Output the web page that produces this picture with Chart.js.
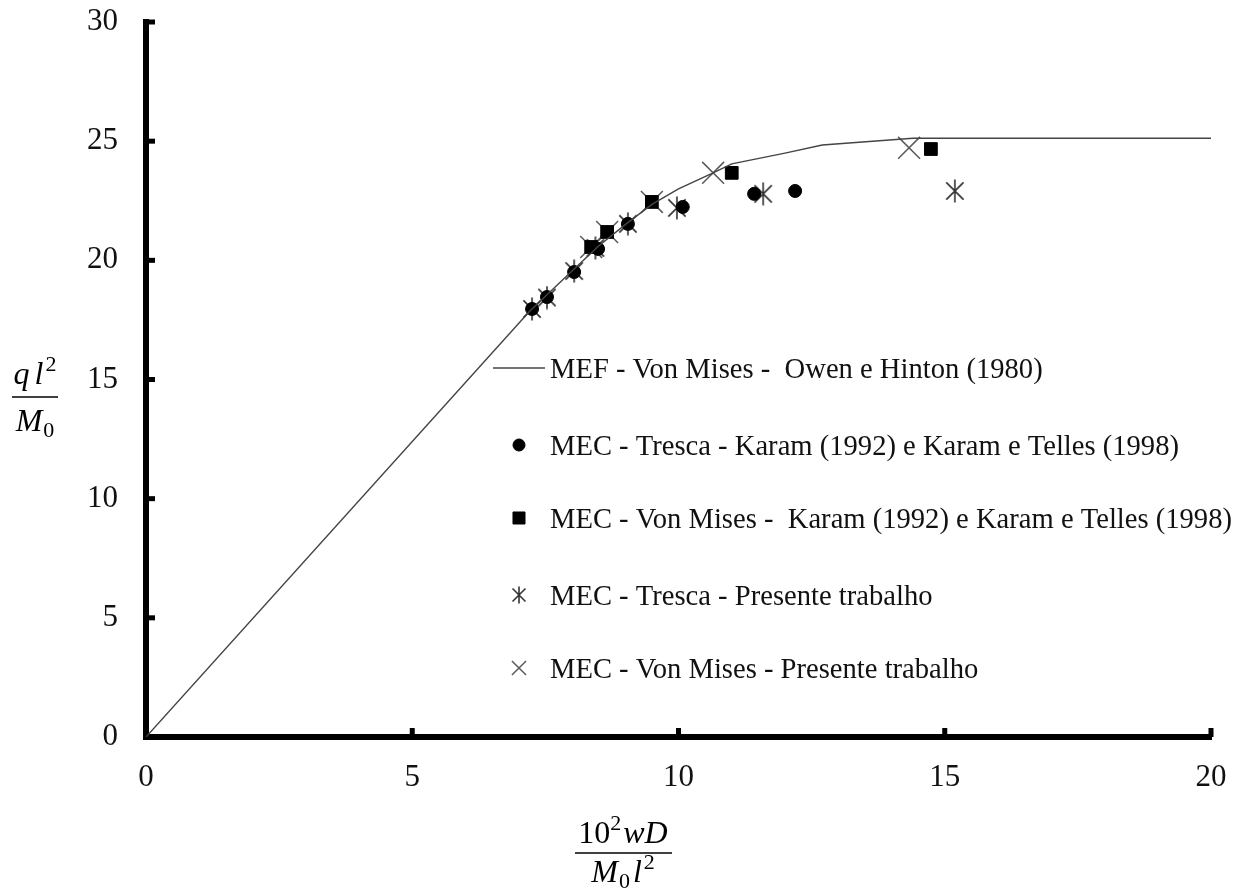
<!DOCTYPE html>
<html>
<head>
<meta charset="utf-8">
<script src="https://cdn.jsdelivr.net/npm/chart.js@4.4.1/dist/chart.umd.min.js"></script>
<style>
    html, body { margin: 0; padding: 0; background: #fff; }
    #wrap { width: 1250px; height: 890px; position: relative; }
</style>
</head>
<body>
<div id="wrap"><canvas id="grafica"></canvas></div>
<script>
// Curva MEF - Von Mises (Owen e Hinton, 1980)
const mefX = [0, 7.2, 8.0, 8.5, 9.0, 9.5, 10.0, 10.65, 11.0, 12.0, 12.7, 14.4, 20.0];
const mefY = [0, 17.85, 19.55, 20.6, 21.5, 22.35, 23.0, 23.67, 24.05, 24.5, 24.84, 25.12, 25.12];

// MEC - Tresca - Karam (circulos)
const trescaKaramX = [7.25, 7.53, 8.04, 8.49, 9.05, 10.08, 11.42, 12.19];
const trescaKaramY = [17.96, 18.46, 19.51, 20.48, 21.53, 22.24, 22.79, 22.91];

// MEC - Von Mises - Karam (quadrados)
const vonMisesKaramX = [8.36, 8.66, 9.50, 11.00, 14.74];
const vonMisesKaramY = [20.56, 21.19, 22.45, 23.67, 24.67];

// MEC - Tresca - Presente trabalho (asteriscos)
const trescaPresenteX = [7.25, 7.53, 8.04, 8.44, 9.05, 9.97, 11.59, 15.19];
const trescaPresenteY = [17.96, 18.44, 19.55, 20.52, 21.53, 22.2, 22.79, 22.91];

// MEC - Von Mises - Presente trabalho (X)
const vonMisesPresenteX = [8.36, 8.66, 9.50, 10.65, 14.33];
const vonMisesPresenteY = [20.56, 21.19, 22.45, 23.67, 24.72];

const etiquetas = [
    'MEF - Von Mises -  Owen e Hinton (1980)',
    'MEC - Tresca - Karam (1992) e Karam e Telles (1998)',
    'MEC - Von Mises -  Karam (1992) e Karam e Telles (1998)',
    'MEC - Tresca - Presente trabalho',
    'MEC - Von Mises - Presente trabalho'
];

const xTicks = [0, 5, 10, 15, 20];
const yTicks = [0, 5, 10, 15, 20, 25, 30];

const FONT = "'Liberation Serif', 'Times New Roman', serif";

function toPoints(xs, ys) {
    return xs.map((x, i) => ({ x: x, y: ys[i] }));
}

// Asterisco de 6 bracos (vertical + X)
function makeAsterisk(size, color) {
    const c = document.createElement('canvas');
    c.width = size; c.height = size;
    const g = c.getContext('2d');
    const m = size / 2, d = size * 0.36;
    g.strokeStyle = color;
    g.lineWidth = 1.6;
    g.beginPath();
    g.moveTo(m, 0.5); g.lineTo(m, size - 0.5);
    g.moveTo(m - d, m - d); g.lineTo(m + d, m + d);
    g.moveTo(m + d, m - d); g.lineTo(m - d, m + d);
    g.stroke();
    return c;
}
const asterisco = makeAsterisk(24, '#333');
const asteriscoLegenda = makeAsterisk(18, '#333');

// Eixos: marcas internas
const marcasInternas = {
    id: 'marcasInternas',
    afterDraw(chart) {
        const ctx = chart.ctx;
        const xs = chart.scales.x, ys = chart.scales.y;
        const a = chart.chartArea;
        ctx.save();
        ctx.fillStyle = '#000';
        yTicks.forEach(v => {
            if (v === 0) return;
            const py = ys.getPixelForValue(v);
            ctx.fillRect(a.left, py - 2.5, 9, 5);
        });
        xTicks.forEach(v => {
            if (v === 0) return;
            const px = xs.getPixelForValue(v);
            ctx.fillRect(px - 2.5, a.bottom - 9, 5, 9);
        });
        ctx.restore();
    }
};

function drawRuns(ctx, runs, cx, base) {
    let total = 0;
    runs.forEach(r => { ctx.font = r.font; total += ctx.measureText(r.t).width + (r.gap || 0); });
    let x = cx - total / 2;
    runs.forEach(r => {
        ctx.font = r.font;
        ctx.fillText(r.t, x, base + (r.dy || 0));
        x += ctx.measureText(r.t).width + (r.gap || 0);
    });
}

// Titulos dos eixos em forma de fracao
const titulos = {
    id: 'titulos',
    afterDraw(chart) {
        const ctx = chart.ctx;
        const it = 'italic 32px ' + FONT;
        const up = '32px ' + FONT;
        const sm = '22px ' + FONT;
        ctx.save();
        ctx.fillStyle = '#000';
        ctx.strokeStyle = '#000';
        ctx.textBaseline = 'alphabetic';
        ctx.textAlign = 'left';

        // eixo y: q l^2 / M_0
        drawRuns(ctx, [
            { t: 'q', font: it, gap: 5 },
            { t: 'l', font: it, gap: 2 },
            { t: '2', font: sm, dy: -13 }
        ], 35, 384);
        ctx.lineWidth = 1.5;
        ctx.beginPath(); ctx.moveTo(12, 397); ctx.lineTo(58, 397); ctx.stroke();
        drawRuns(ctx, [
            { t: 'M', font: it, gap: 1 },
            { t: '0', font: sm, dy: 6 }
        ], 35, 431);

        // eixo x: 10^2 w D / M_0 l^2
        drawRuns(ctx, [
            { t: '10', font: up },
            { t: '2', font: sm, dy: -13, gap: 2 },
            { t: 'wD', font: it }
        ], 623, 843);
        ctx.beginPath(); ctx.moveTo(575, 853); ctx.lineTo(672, 853); ctx.stroke();
        drawRuns(ctx, [
            { t: 'M', font: it, gap: 1 },
            { t: '0', font: sm, dy: 6, gap: 3 },
            { t: 'l', font: it, gap: 2 },
            { t: '2', font: sm, dy: -13 }
        ], 623, 882);
        ctx.restore();
    }
};

// Legenda dentro da area do grafico
const legenda = {
    id: 'legenda',
    afterDraw(chart) {
        const ctx = chart.ctx;
        const ys = [368, 445, 518, 595, 668];
        const mx = 519, tx = 550;
        ctx.save();
        chart.data.datasets.forEach((ds, i) => {
            const y = ys[i];
            if (ds.showLine) {
                ctx.strokeStyle = ds.borderColor;
                ctx.lineWidth = ds.borderWidth;
                ctx.beginPath(); ctx.moveTo(493, y); ctx.lineTo(545, y); ctx.stroke();
            } else {
                ctx.fillStyle = ds.backgroundColor;
                ctx.strokeStyle = ds.borderColor;
                ctx.lineWidth = ds.borderWidth;
                Chart.helpers.drawPoint(ctx, {
                    pointStyle: ds.legendStyle || ds.pointStyle,
                    radius: ds.legendRadius,
                    borderWidth: ds.borderWidth,
                    rotation: 0
                }, mx, y);
            }
            ctx.fillStyle = '#111';
            ctx.font = '28.6px ' + FONT;
            ctx.textBaseline = 'alphabetic';
            ctx.fillText(ds.label, tx, y + 10);
        });
        ctx.restore();
    }
};

const ctx = document.getElementById('grafica').getContext('2d');
new Chart(ctx, {
    type: 'scatter',
    data: {
        datasets: [
            {
                label: etiquetas[0],
                data: toPoints(mefX, mefY),
                showLine: true,
                borderColor: '#444',
                borderWidth: 1.4,
                pointRadius: 0,
                tension: 0
            },
            {
                label: etiquetas[1],
                data: toPoints(trescaKaramX, trescaKaramY),
                pointStyle: 'circle',
                pointRadius: 6.5,
                backgroundColor: '#000',
                borderColor: '#000',
                borderWidth: 1,
                legendRadius: 6
            },
            {
                label: etiquetas[2],
                data: toPoints(vonMisesKaramX, vonMisesKaramY),
                pointStyle: 'rect',
                pointRadius: 9,
                backgroundColor: '#000',
                borderColor: '#000',
                borderWidth: 1,
                legendRadius: 8.5
            },
            {
                label: etiquetas[3],
                data: toPoints(trescaPresenteX, trescaPresenteY),
                pointStyle: asterisco,
                legendStyle: asteriscoLegenda,
                pointRadius: 12,
                backgroundColor: '#333',
                borderColor: '#333',
                borderWidth: 1.5,
                legendRadius: 9
            },
            {
                label: etiquetas[4],
                data: toPoints(vonMisesPresenteX, vonMisesPresenteY),
                pointStyle: 'crossRot',
                pointRadius: 15.5,
                backgroundColor: '#5a5a5a',
                borderColor: '#5a5a5a',
                borderWidth: 1.5,
                legendRadius: 10
            }
        ]
    },
    options: {
        responsive: true,
        maintainAspectRatio: false,
        animation: false,
        layout: { padding: { top: 22, right: 39, left: 0, bottom: 0 } },
        plugins: {
            legend: { display: false },
            tooltip: { enabled: false }
        },
        scales: {
            x: {
                type: 'linear',
                min: 0,
                max: 20,
                afterBuildTicks: s => { s.ticks = xTicks.map(v => ({ value: v })); },
                afterFit: s => { s.height = 153; s.paddingLeft = 0; s.paddingRight = 0; },
                grid: { display: true, drawOnChartArea: false, drawTicks: false },
                border: { display: true, color: '#000', width: 6 },
                ticks: { color: '#111', padding: 22, font: { family: FONT, size: 31 } }
            },
            y: {
                type: 'linear',
                min: 0,
                max: 30,
                afterBuildTicks: s => { s.ticks = yTicks.map(v => ({ value: v })); },
                afterFit: s => { s.width = 146; s.paddingTop = 0; s.paddingBottom = 0; },
                grid: { display: true, drawOnChartArea: false, drawTicks: false },
                border: { display: true, color: '#000', width: 6 },
                ticks: { color: '#111', padding: 28, font: { family: FONT, size: 31 } }
            }
        }
    },
    plugins: [marcasInternas, titulos, legenda]
});
</script>
</body>
</html>
